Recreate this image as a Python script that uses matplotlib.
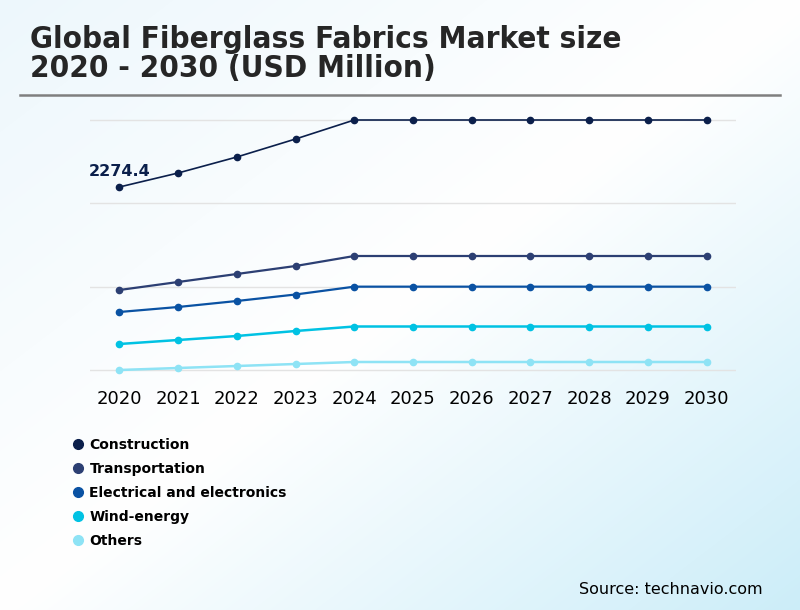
import numpy as np
import matplotlib
matplotlib.use("Agg")
import matplotlib.pyplot as plt
from matplotlib.lines import Line2D

years = [2020, 2021, 2022, 2023, 2024, 2025, 2026, 2027, 2028, 2029, 2030]

construction = [2196, 2364, 2556, 2772, 3000, 3000, 3000, 3000, 3000, 3000, 3000]
transportation = [960, 1056, 1152, 1248, 1368, 1368, 1368, 1368, 1368, 1368, 1368]
electrical = [696, 756, 828, 906, 1000, 1000, 1000, 1000, 1000, 1000, 1000]
wind_energy = [312, 360, 408, 468, 522, 522, 522, 522, 522, 522, 522]
others = [0, 24, 48, 72, 96, 96, 96, 96, 96, 96, 96]

series_names = ["Construction", "Transportation", "Electrical and electronics",
                "Wind-energy", "Others"]
series_values = [construction, transportation, electrical, wind_energy, others]
colors = ["#0b1f4b", "#2c3f73", "#0a52a3", "#00c2e3", "#8ee3f5"]
widths = [1.2, 1.6, 1.6, 1.8, 1.8]

first_label = "2274.4"
grid_ticks = [0, 1000, 2000, 3000]

fig = plt.figure(figsize=(8, 6.1), dpi=100)

# background gradient
bg = fig.add_axes([0, 0, 1, 1], zorder=-10)
h, w = 610, 800
yy, xx = np.mgrid[0:h, 0:w]
t = (xx / w + yy / h) / 2
c0 = np.array([0.93, 0.97, 0.99])
c1 = np.array([1.0, 1.0, 1.0])
c2 = np.array([0.80, 0.93, 0.975])
img = np.where(t[..., None] < 0.5,
               c0 + (c1 - c0) * (t[..., None] / 0.5),
               c1 + (c2 - c1) * ((t[..., None] - 0.5) / 0.5))
bg.imshow(img, aspect="auto", extent=[0, 1, 0, 1])
bg.axis("off")

fig.text(30 / 800, 1 - 25 / 610, "Global Fiberglass Fabrics Market size\n2020 - 2030 (USD Million)",
         fontsize=22.5, fontweight="bold", color="#262626", va="top", ha="left",
         family="DejaVu Sans", fontstretch="condensed", linespacing=0.98)
fig.add_artist(Line2D([20 / 800, 780 / 800], [1 - 95 / 610, 1 - 95 / 610],
                      color="#7f7f7f", lw=1.8))

ax = fig.add_axes([90 / 800, 1 - 380 / 610, 646 / 800, 270 / 610])
ax.patch.set_alpha(0)
for name, vals, col, lw in zip(series_names, series_values, colors, widths):
    ax.plot(years, vals, color=col, lw=lw, marker="o", markersize=4.5, label=name,
            clip_on=False, zorder=3)

ax.set_xlim(2019.5, 2030.5)
ax.set_ylim(-120, 3120)
ax.set_yticks(grid_ticks)
ax.yaxis.grid(True, color="#e3e3e3", lw=1)
ax.set_axisbelow(True)
ax.tick_params(axis="y", left=False, labelleft=False)
ax.tick_params(axis="x", bottom=False, labelsize=13, pad=3.5, colors="black")
ax.set_xticks(years)
for s in ax.spines.values():
    s.set_visible(False)

ax.annotate(first_label, (years[0], construction[0]), xytext=(-22, 8),
            textcoords="offset points", fontsize=11.5, fontweight="bold",
            color="#0b1f4b")

handles = [Line2D([], [], ls="none", marker="o", markersize=7, color=c) for c in colors]
fig.legend(handles, series_names, loc="upper left", bbox_to_anchor=(70 / 800, 1 - 438 / 610),
           frameon=False, prop={"weight": "bold", "size": 10}, labelspacing=0.72,
           handletextpad=0.2, handlelength=1.2, borderpad=0, borderaxespad=0)

fig.text(763 / 800, 1 - 589 / 610, "Source: technavio.com", fontsize=11.5, ha="right",
         va="center", color="black")

fig.savefig("out.png", dpi=100)
